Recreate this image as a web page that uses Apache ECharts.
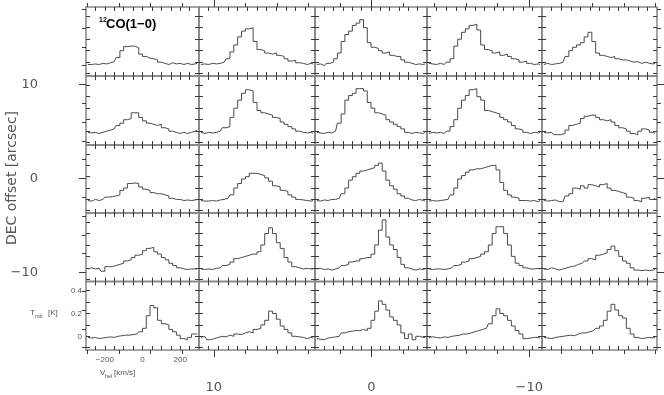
<!DOCTYPE html>
<html><head><meta charset="utf-8">
<script src="https://cdn.jsdelivr.net/npm/echarts@6/dist/echarts.min.js"></script>
<style>html,body{margin:0;padding:0;background:#fff}#c{width:664px;height:395px}</style>
</head><body><div id="c"></div><script>
// ---- data ----
const velocities = [-290,-270,-250,-230,-210,-190,-170,-150,-130,-110,-90,-70,-50,-30,-10,10,30,50,70,90,110,130,150,170,190,210,230,250,270,290];

const r1c1 = [-0.02,-0.02,-0.015,-0.02,-0.01,-0.015,-0.005,0.005,0.04,0.10,0.135,0.14,0.14,0.125,0.07,0.05,0.035,0.03,0.02,0.0,-0.01,-0.02,-0.005,-0.015,-0.01,-0.02,-0.01,-0.02,-0.015,-0.01];
const r1c2 = [-0.02,-0.015,-0.02,-0.01,-0.015,-0.01,0.0,0.03,0.09,0.15,0.22,0.27,0.29,0.30,0.18,0.11,0.10,0.08,0.07,0.08,0.06,0.05,0.03,0.01,0.015,-0.005,-0.01,-0.02,-0.01,-0.015];
const r1c3 = [-0.02,-0.015,-0.03,-0.01,0.0,0.03,0.08,0.18,0.24,0.27,0.32,0.34,0.37,0.30,0.17,0.13,0.12,0.10,0.08,0.09,0.06,0.05,0.05,0.02,0.0,-0.01,-0.02,-0.015,-0.02,-0.015];
const r1c4 = [-0.01,-0.015,-0.02,-0.01,-0.02,0.0,0.03,0.14,0.20,0.26,0.29,0.32,0.33,0.28,0.15,0.11,0.10,0.08,0.09,0.06,0.07,0.05,0.03,0.02,0.0,0.01,-0.01,-0.02,-0.015,-0.02];
const r1c5 = [-0.02,-0.01,-0.02,-0.015,-0.01,0.0,0.05,0.10,0.13,0.15,0.17,0.22,0.26,0.18,0.08,0.06,0.05,0.04,0.05,0.03,0.02,0.02,0.01,0.0,0.005,-0.01,0.0,-0.01,-0.015,-0.01];

const r2c1 = [-0.01,-0.015,-0.01,-0.02,-0.01,0.0,0.01,0.02,0.05,0.07,0.10,0.11,0.16,0.16,0.12,0.09,0.07,0.06,0.05,0.06,0.03,0.02,0.0,-0.01,-0.02,-0.01,-0.02,-0.01,0.0,0.01];
const r2c2 = [-0.01,-0.02,-0.01,-0.015,-0.01,0.0,0.03,0.04,0.12,0.20,0.27,0.33,0.36,0.35,0.25,0.18,0.16,0.15,0.14,0.12,0.11,0.08,0.06,0.04,0.02,0.0,-0.01,-0.015,-0.01,-0.02];
const r2c3 = [-0.01,-0.015,-0.02,-0.01,-0.015,0.0,0.07,0.15,0.27,0.31,0.33,0.37,0.37,0.35,0.25,0.20,0.16,0.15,0.14,0.10,0.08,0.06,0.04,0.02,-0.01,-0.02,-0.01,-0.015,-0.02,-0.01];
const r2c4 = [-0.02,-0.01,-0.015,-0.01,-0.02,0.0,0.04,0.10,0.20,0.27,0.31,0.36,0.37,0.30,0.27,0.18,0.17,0.16,0.15,0.12,0.10,0.08,0.05,0.02,0.01,-0.01,-0.02,-0.01,-0.015,-0.01];
const r2c5 = [-0.01,-0.015,-0.01,-0.03,-0.03,-0.02,0.01,0.05,0.06,0.07,0.11,0.13,0.14,0.14,0.12,0.10,0.09,0.10,0.08,0.05,0.03,0.02,0.0,-0.02,-0.03,0.0,0.02,0.01,-0.01,-0.02];

const r3c1 = [-0.01,-0.015,0.0,-0.01,0.0,0.02,0.025,0.03,0.04,0.08,0.10,0.14,0.145,0.14,0.11,0.09,0.08,0.06,0.05,0.05,0.04,0.03,0.01,0.0,0.0,-0.01,-0.005,-0.01,-0.005,0.0];
const r3c2 = [-0.01,-0.015,-0.015,-0.01,-0.015,-0.005,0.0,0.01,0.04,0.10,0.14,0.18,0.20,0.23,0.23,0.22,0.21,0.19,0.16,0.12,0.11,0.08,0.07,0.04,0.02,0.0,-0.005,-0.01,-0.015,-0.01];
const r3c3 = [-0.01,-0.015,-0.005,-0.01,0.0,0.0,0.01,0.05,0.10,0.17,0.20,0.23,0.25,0.26,0.27,0.28,0.30,0.32,0.25,0.17,0.12,0.09,0.05,0.03,0.01,-0.005,-0.01,0.0,-0.01,-0.015];
const r3c4 = [-0.015,-0.01,-0.015,-0.01,-0.005,0.0,0.04,0.10,0.18,0.21,0.24,0.26,0.27,0.27,0.28,0.29,0.30,0.30,0.26,0.15,0.08,0.04,0.02,0.01,-0.01,-0.01,-0.015,-0.01,-0.02,-0.01];
const r3c5 = [-0.01,-0.015,-0.01,-0.005,-0.02,-0.02,0.03,0.05,0.10,0.09,0.12,0.10,0.13,0.12,0.11,0.13,0.14,0.10,0.08,0.07,0.06,0.05,0.02,0.01,-0.01,-0.02,0.01,0.02,0.0,0.01];

const r4c1 = [-0.01,0.0,-0.01,-0.005,-0.03,0.01,0.01,0.02,0.03,0.04,0.06,0.07,0.09,0.11,0.12,0.15,0.17,0.18,0.14,0.12,0.09,0.07,0.04,0.02,0.0,-0.01,-0.015,-0.01,-0.01,-0.01];
const r4c2 = [-0.01,-0.015,-0.01,-0.015,-0.005,0.0,0.02,0.03,0.05,0.08,0.09,0.10,0.11,0.12,0.12,0.14,0.20,0.30,0.35,0.30,0.22,0.17,0.09,0.05,0.01,0.0,-0.01,-0.005,-0.01,-0.01];
const r4c3 = [-0.01,-0.005,-0.015,-0.01,-0.02,-0.01,0.0,0.02,0.03,0.05,0.06,0.06,0.08,0.09,0.09,0.12,0.20,0.33,0.42,0.27,0.20,0.16,0.09,0.03,0.0,-0.01,-0.02,-0.01,-0.015,-0.01];
const r4c4 = [-0.01,-0.015,-0.01,-0.01,-0.015,-0.01,0.0,0.02,0.03,0.05,0.06,0.08,0.09,0.10,0.12,0.14,0.20,0.30,0.36,0.36,0.30,0.20,0.10,0.04,0.02,0.0,-0.01,-0.01,-0.005,-0.01];
const r4c5 = [-0.01,-0.015,0.0,-0.01,-0.02,-0.01,0.0,0.01,0.015,0.03,0.04,0.06,0.08,0.07,0.11,0.12,0.13,0.16,0.19,0.15,0.10,0.06,0.04,0.0,-0.02,-0.025,-0.02,-0.025,-0.02,-0.01];

const r5c1 = [-0.01,-0.015,-0.01,-0.02,-0.015,-0.01,-0.005,-0.01,0.0,0.005,0.01,0.01,0.015,0.02,0.04,0.07,0.18,0.27,0.25,0.14,0.11,0.10,0.06,0.04,0.01,-0.02,-0.03,-0.01,0.02,0.02];
const r5c2 = [-0.01,0.0,-0.03,-0.02,-0.01,0.0,-0.005,0.01,0.0,0.02,0.015,0.03,0.04,0.03,0.06,0.07,0.10,0.14,0.22,0.20,0.15,0.09,0.06,0.03,0.0,-0.005,-0.01,-0.02,-0.01,-0.015];
const r5c3 = [-0.02,-0.025,-0.03,-0.015,-0.01,-0.005,0.0,0.03,0.04,0.045,0.05,0.05,0.06,0.05,0.07,0.14,0.22,0.31,0.28,0.23,0.17,0.14,0.10,0.03,-0.02,0.02,-0.03,0.0,-0.01,-0.01];
const r5c4 = [-0.01,-0.005,-0.01,-0.015,-0.005,-0.01,0.0,0.005,0.01,0.02,0.02,0.03,0.04,0.05,0.06,0.07,0.11,0.18,0.24,0.20,0.18,0.14,0.09,0.05,0.02,-0.02,-0.015,-0.01,-0.01,-0.015];
const r5c5 = [-0.01,-0.015,-0.02,-0.01,-0.005,0.0,0.005,0.01,0.005,0.02,0.03,0.03,0.04,0.05,0.07,0.09,0.14,0.22,0.28,0.23,0.18,0.16,0.07,0.02,-0.01,-0.02,-0.015,-0.01,-0.015,-0.01];

// tick / label values
const velTickMarks = [-250,-200,-150,-100,-50,0,50,100,150,200,250];
const velLabels = [-200,0,200];
const tmbTickMarks = [-0.1,0,0.1,0.2,0.3,0.4];
const tmbLabels = [0,0.2,0.4];
const offsetLabels = [-10,0,10];
const offsetMinorTicks = [-18,-16,-14,-12,-8,-6,-4,-2,2,4,6,8,12,14,16,18];

// ---- layout ----
const spectra = [
  [r1c1,r1c2,r1c3,r1c4,r1c5],
  [r2c1,r2c2,r2c3,r2c4,r2c5],
  [r3c1,r3c2,r3c3,r3c4,r3c5],
  [r4c1,r4c2,r4c3,r4c4,r4c5],
  [r5c1,r5c2,r5c3,r5c4,r5c5]
];
const colEdges = [86,199,315,427,542,657];
const rowEdges = [7,76,145,213,281.5,350];
const VMIN = -300, VMAX = 300, TMIN = -0.12, TMAX = 0.48;
const FONT = 'Liberation Sans, Arial, Helvetica, sans-serif';
const WFONT = 'DejaVu Sans, Liberation Sans, sans-serif';
const TXT = '#555555';
const minus = v => String(v).replace('-', '\u2212');
const tickLine = {color:'#3a3a3a', width:1};

const grids = [], xAxes = [], yAxes = [], series = [];
for (let r = 0; r < 5; r++) {
  for (let c = 0; c < 5; c++) {
    const gi = grids.length;
    const labeled = (r === 4 && c === 0);
    grids.push({left:colEdges[c], top:rowEdges[r], width:colEdges[c+1]-colEdges[c],
      height:rowEdges[r+1]-rowEdges[r], show:true, borderColor:'#858585', borderWidth:1.5,
      backgroundColor:'rgba(0,0,0,0)', containLabel:false, outerBoundsMode:'none'});
    const xb = {type:'value', gridIndex:gi, min:VMIN, max:VMAX, splitLine:{show:false},
      axisLine:{show:false, onZero:false},
      axisTick:{show:true, inside:true, length:4, customValues:velTickMarks, lineStyle:tickLine},
      axisLabel:{show:false}};
    xAxes.push(Object.assign({}, xb, {position:'bottom', axisLabel: labeled ?
      {show:true, customValues:velLabels, fontSize:8, color:TXT, fontFamily:FONT, margin:6, formatter:minus} : {show:false}}));
    xAxes.push(Object.assign({}, xb, {position:'top'}));
    const yb = {type:'value', gridIndex:gi, min:TMIN, max:TMAX, splitLine:{show:false},
      axisLine:{show:false, onZero:false},
      axisTick:{show:true, inside:true, length:4, customValues:tmbTickMarks, lineStyle:tickLine},
      axisLabel:{show:false}};
    yAxes.push(Object.assign({}, yb, {position:'left', axisLabel: labeled ?
      {show:true, customValues:tmbLabels, fontSize:8, color:TXT, fontFamily:FONT, margin:4, formatter:v => String(v)} : {show:false}}));
    yAxes.push(Object.assign({}, yb, {position:'right'}));
    const vals = spectra[r][c];
    series.push({type:'line', xAxisIndex:2*gi, yAxisIndex:2*gi, step:'middle', symbol:'none',
      silent:true, animation:false, clip:true,
      lineStyle:{color:'#4a4a4a', width:1},
      data: velocities.map((v,i) => [v, vals[i]])});
  }
}

// outer offset axes (RA / DEC offsets)
const OX = [-18.1, 18.1], OY = [-18.25, 18.25];
function outerGrid(major) {
  const gi = grids.length;
  grids.push({left:colEdges[0], top:rowEdges[0], width:colEdges[5]-colEdges[0], height:rowEdges[5]-rowEdges[0],
    show:false, containLabel:false, outerBoundsMode:'none'});
  const ticks = major ? offsetLabels : offsetMinorTicks;
  const len = major ? 7 : 4;
  const xb = {type:'value', gridIndex:gi, min:OX[0], max:OX[1], inverse:true, splitLine:{show:false},
    axisLine:{show:false, onZero:false},
    axisTick:{show:true, inside:false, length:len, customValues:ticks, lineStyle:tickLine},
    axisLabel:{show:false}};
  xAxes.push(Object.assign({}, xb, {position:'bottom', axisLabel: major ?
    {show:true, customValues:offsetLabels, fontSize:13, color:TXT, fontFamily:WFONT, margin:31, formatter:minus} : {show:false}}));
  xAxes.push(Object.assign({}, xb, {position:'top'}));
  const yb = {type:'value', gridIndex:gi, min:OY[0], max:OY[1], splitLine:{show:false},
    axisLine:{show:false, onZero:false},
    axisTick:{show:true, inside:false, length:len, customValues:ticks, lineStyle:tickLine},
    axisLabel:{show:false}};
  yAxes.push(Object.assign({}, yb, {position:'left', axisLabel: major ?
    {show:true, customValues:offsetLabels, fontSize:13, color:TXT, fontFamily:WFONT, margin:48, formatter:minus} : {show:false}}));
  yAxes.push(Object.assign({}, yb, {position:'right'}));
}
outerGrid(true);
outerGrid(false);

const graphic = [
  {type:'text', x:12, y:178, rotation:Math.PI/2,
   style:{text:'DEC offset [arcsec]', fontSize:14, fontFamily:WFONT, fill:TXT, align:'center', verticalAlign:'middle'}},
  {type:'text', x:99, y:20, style:{text:'12', fontSize:7, fontWeight:'bold', fontFamily:FONT, fill:'#000', align:'left', verticalAlign:'middle'}},
  {type:'text', x:106, y:24, style:{text:'CO(1\u22120)', fontSize:13, fontWeight:'bold', fontFamily:FONT, fill:'#000', align:'left', verticalAlign:'middle'}},
  {type:'text', x:30, y:313, style:{text:'T', fontSize:8, fontFamily:FONT, fill:TXT, align:'left', verticalAlign:'middle'}},
  {type:'text', x:35, y:316, style:{text:'mb', fontSize:5.5, fontFamily:FONT, fill:TXT, align:'left', verticalAlign:'middle'}},
  {type:'text', x:48, y:313, style:{text:'[K]', fontSize:8, fontFamily:FONT, fill:TXT, align:'left', verticalAlign:'middle'}},
  {type:'text', x:100, y:373, style:{text:'V', fontSize:8, fontFamily:FONT, fill:TXT, align:'left', verticalAlign:'middle'}},
  {type:'text', x:105, y:376, style:{text:'hel', fontSize:5.5, fontFamily:FONT, fill:TXT, align:'left', verticalAlign:'middle'}},
  {type:'text', x:114, y:373, style:{text:'[km/s]', fontSize:8, fontFamily:FONT, fill:TXT, align:'left', verticalAlign:'middle'}}
];

const chart = echarts.init(document.getElementById('c'), null, {renderer:'canvas', width:664, height:395});
chart.setOption({
  animation:false,
  backgroundColor:'#ffffff',
  grid:grids, xAxis:xAxes, yAxis:yAxes, series:series, graphic:graphic
});
</script></body></html>
